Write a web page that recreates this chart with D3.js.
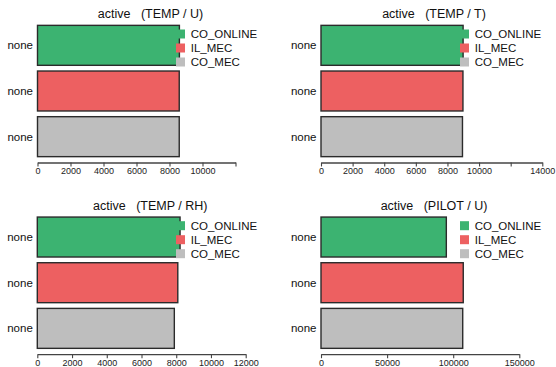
<!DOCTYPE html>
<html>
<head>
<meta charset="utf-8">
<script src="https://cdn.jsdelivr.net/npm/d3@7"></script>
<style>
  body { margin: 0; background: #fff; }
  svg text { font-family: "Liberation Sans", Arial, Helvetica, sans-serif; }
</style>
</head>
<body>
<svg id="chart" width="556" height="367"></svg>
<script>
// data
var series = ["CO_ONLINE", "IL_MEC", "CO_MEC"];
var rowLabel = "none";
var titles = ["active   (TEMP / U)", "active   (TEMP / T)", "active   (TEMP / RH)", "active   (PILOT / U)"];
var tempU = [8600, 8590, 8590];
var tempT = [8990, 8980, 8950];
var tempRH = [8220, 8090, 7890];
var pilotU = [94800, 107600, 107200];
var ticksTempU = [0, 2000, 4000, 6000, 8000, 10000, 12000];
var ticksTempT = [0, 2000, 4000, 6000, 8000, 10000, 12000, 14000];
var ticksTempRH = [0, 2000, 4000, 6000, 8000, 10000, 12000];
var ticksPilotU = [0, 50000, 100000, 150000];
var hiddenLabels = [[12000], [12000], [], []];

var colors = { "CO_ONLINE": "#3cb371", "IL_MEC": "#ed6061", "CO_MEC": "#bebebe" };

// panel geometry
var panels = [
  { values: tempU, ticks: ticksTempU, x: [37.5, 235.5], top: 0, left: 0 },
  { values: tempT, ticks: ticksTempT, x: [321, 542.3], top: 0, left: 284 },
  { values: tempRH, ticks: ticksTempRH, x: [37.3, 245.7], top: 191.7, left: 0 },
  { values: pilotU, ticks: ticksPilotU, x: [321, 519.3], top: 191.7, left: 284 }
];

var svg = d3.select("#chart");

panels.forEach(function (p, i) {
  var g = svg.append("g").attr("class", "panel");
  var xs = d3.scaleLinear()
    .domain([0, p.ticks[p.ticks.length - 1]])
    .range(p.x);
  var ys = d3.scaleBand()
    .domain(series)
    .range([22.5 + p.top, 159.5 + p.top])
    .paddingInner(0.125)
    .paddingOuter(0.0625);

  g.append("text")
    .attr("x", p.x[0] + 113)
    .attr("y", 18 + p.top)
    .attr("text-anchor", "middle")
    .style("font-size", "12.5px")
    .style("white-space", "pre")
    .style("fill", "#111")
    .text(titles[i]);

  g.selectAll(".bar")
    .data(series)
    .enter().append("rect")
    .attr("class", "bar")
    .attr("x", xs(0))
    .attr("y", function (d) { return ys(d); })
    .attr("width", function (d, j) { return xs(p.values[j]) - xs(0); })
    .attr("height", ys.bandwidth())
    .style("fill", function (d) { return colors[d]; })
    .style("stroke", "#2b2b2b")
    .style("stroke-width", 1.4);

  g.selectAll(".rowlabel")
    .data(series)
    .enter().append("text")
    .attr("class", "rowlabel")
    .attr("x", xs(0) - 4.5)
    .attr("y", function (d) { return ys(d) + ys.bandwidth() / 2; })
    .attr("dy", ".35em")
    .attr("text-anchor", "end")
    .style("font-size", "11.5px")
    .style("fill", "#111")
    .text(rowLabel);

  var hide = hiddenLabels[i];
  var axis = d3.axisBottom(xs)
    .tickValues(p.ticks)
    .tickSize(4)
    .tickSizeOuter(0)
    .tickFormat(function (v) { return hide.indexOf(v) >= 0 ? "" : d3.format("d")(v); });

  var ax = g.append("g")
    .attr("transform", "translate(0," + (162.5 + p.top) + ")")
    .call(axis);
  ax.select(".domain").style("stroke", "#444").style("stroke-width", 1.3);
  ax.selectAll(".tick line").style("stroke", "#444").style("stroke-width", 1.1);
  ax.selectAll(".tick text")
    .attr("y", 5)
    .style("font-size", "9px")
    .style("fill", "#222")
    .style("font-family", "'Liberation Sans', Arial, sans-serif");

  var legend = g.selectAll(".legend")
    .data(series)
    .enter().append("g")
    .attr("class", "legend")
    .attr("transform", function (d, j) {
      return "translate(" + (176 + p.left) + "," + (34 + p.top + j * 14) + ")";
    });
  legend.append("rect")
    .attr("x", 0)
    .attr("y", -4.5)
    .attr("width", 9)
    .attr("height", 9)
    .style("fill", function (d) { return colors[d]; });
  legend.append("text")
    .attr("x", 14.7)
    .attr("y", 0)
    .attr("dy", ".35em")
    .style("font-size", "11.5px")
    .style("fill", "#111")
    .text(function (d) { return d; });
});
</script>
</body>
</html>
